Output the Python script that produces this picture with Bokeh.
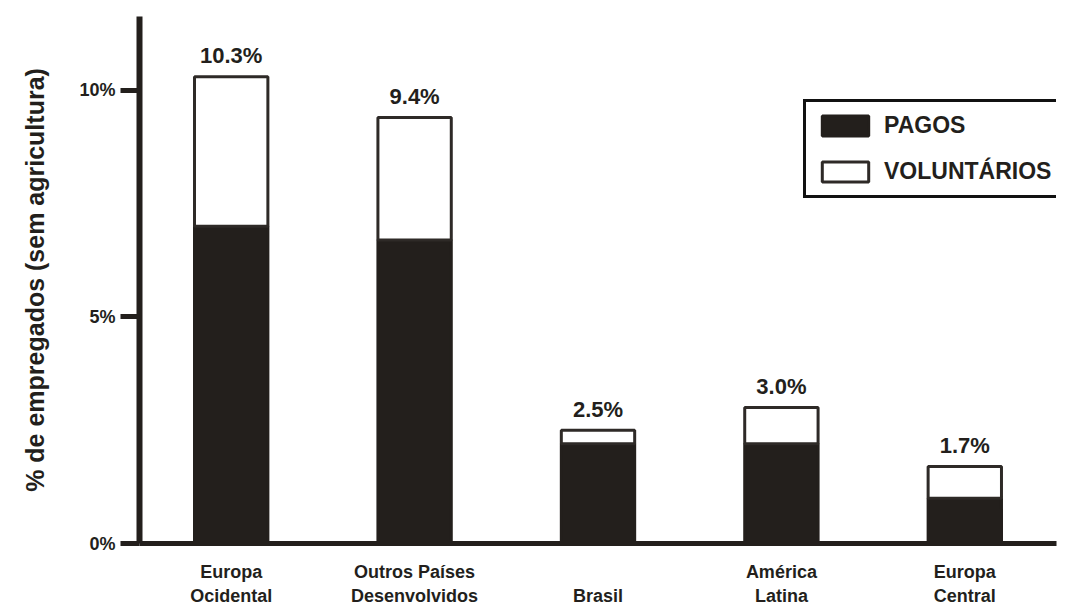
from bokeh.plotting import figure
from bokeh.models import FactorRange, Range1d, FixedTicker, Legend, LegendItem, ColumnDataSource
from bokeh.embed import file_html
from bokeh.resources import INLINE
from bokeh.core.properties import value

# ---- data ----
categories = ["Europa\nOcidental", "Outros Países\nDesenvolvidos", "\nBrasil",
              "América\nLatina", "Europa\nCentral"]
pagos = [7.0, 6.7, 2.2, 2.2, 1.0]
voluntarios = [3.3, 2.7, 0.3, 0.8, 0.7]
totais = [10.3, 9.4, 2.5, 3.0, 1.7]
total_labels = ["10.3%", "9.4%", "2.5%", "3.0%", "1.7%"]
y_ticks = [0, 5, 10]
y_tick_labels = ["0%", "5%", "10%"]
series_names = ["PAGOS", "VOLUNTÁRIOS"]

INK = "#231f1c"
FONT = "Liberation Sans"

source = ColumnDataSource(dict(cat=categories, pagos=pagos, voluntarios=voluntarios,
                               totais=totais, lbl=total_labels))

p = figure(width=1069, height=609, output_backend="svg", toolbar_location=None,
           x_range=FactorRange(*categories), y_range=Range1d(0, 11.63),
           min_border_left=139, min_border_right=13, min_border_top=16, min_border_bottom=66)
p.outline_line_color = None
p.xgrid.grid_line_color = None
p.ygrid.grid_line_color = None
p.background_fill_color = "white"
p.border_fill_color = "white"

bars = p.vbar_stack(["pagos", "voluntarios"], x="cat", width=0.4, source=source,
                    fill_color=[INK, "white"], line_color=[INK, "#2e2a27"], line_width=3)

p.text(x="cat", y="totais", text="lbl", source=source, text_align="center",
       text_baseline="alphabetic", y_offset=-21, text_font=value(FONT),
       text_font_style="bold", text_font_size="22px", text_color=INK)

legend = Legend(items=[LegendItem(label=series_names[0], renderers=[bars[0]]),
                       LegendItem(label=series_names[1], renderers=[bars[1]])],
                location=(664, 345), orientation="vertical",
                glyph_width=58, glyph_height=25, label_height=25, spacing=19,
                padding=10, margin=0, label_standoff=10,
                border_line_color="#111111", border_line_width=3, border_line_alpha=1.0,
                background_fill_color="white", background_fill_alpha=1.0,
                label_text_font=FONT, label_text_font_style="bold",
                label_text_font_size="23px", label_text_color=INK)
p.add_layout(legend, "center")

# y axis
ya = p.yaxis[0]
ya.ticker = FixedTicker(ticks=y_ticks)
ya.major_label_overrides = {t: l for t, l in zip(y_ticks, y_tick_labels)}
ya.minor_tick_line_color = None
ya.major_tick_in = 0
ya.major_tick_out = 19
ya.major_tick_line_width = 5
ya.major_tick_line_color = INK
ya.axis_line_width = 6
ya.axis_line_color = INK
ya.major_label_standoff = 5
ya.major_label_text_font = FONT
ya.major_label_text_font_style = "bold"
ya.major_label_text_font_size = "18px"
ya.major_label_text_color = INK
ya.axis_label = "% de empregados (sem agricultura)"
ya.axis_label_standoff = 27
ya.axis_label_text_font = FONT
ya.axis_label_text_font_style = "bold"
ya.axis_label_text_font_size = "25px"
ya.axis_label_text_color = INK

# x axis
xa = p.xaxis[0]
xa.major_tick_line_color = None
xa.minor_tick_line_color = None
xa.major_tick_out = 0
xa.major_tick_in = 0
xa.axis_line_width = 5
xa.axis_line_color = INK
xa.major_label_standoff = 18
xa.major_label_text_font = FONT
xa.major_label_text_font_style = "bold"
xa.major_label_text_font_size = "18px"
xa.major_label_text_color = INK
xa.major_label_orientation = "horizontal"

open("out.html", "w").write(file_html(p, INLINE))
